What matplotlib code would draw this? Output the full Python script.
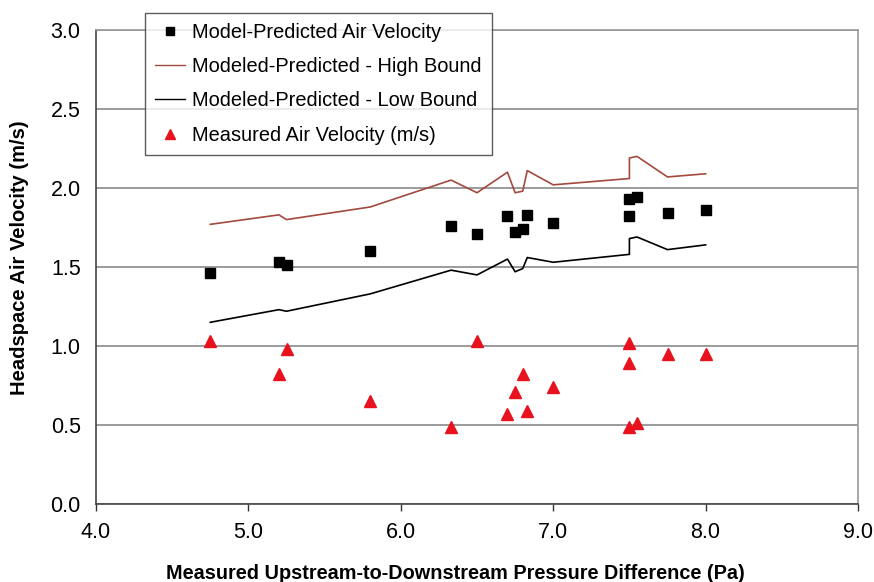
import matplotlib
matplotlib.use("Agg")
import matplotlib.pyplot as plt
from matplotlib.lines import Line2D

plt.rcParams["font.family"] = ["Liberation Sans", "DejaVu Sans"]

# model-predicted velocity (squares)
x_model = [4.75, 5.2, 5.25, 5.8, 6.33, 6.5, 6.7, 6.75, 6.8, 6.83, 7.0, 7.5, 7.5, 7.55, 7.75, 8.0]
y_model = [1.46, 1.53, 1.51, 1.60, 1.76, 1.71, 1.82, 1.72, 1.74, 1.83, 1.78, 1.93, 1.82, 1.94, 1.84, 1.86]

# bounds
x_bound = [4.75, 5.2, 5.25, 5.8, 6.33, 6.5, 6.7, 6.75, 6.8, 6.83, 7.0, 7.5, 7.5, 7.55, 7.75, 8.0]
y_high = [1.77, 1.83, 1.80, 1.88, 2.05, 1.97, 2.10, 1.97, 1.98, 2.11, 2.02, 2.06, 2.19, 2.20, 2.07, 2.09]
y_low = [1.15, 1.23, 1.22, 1.33, 1.48, 1.45, 1.55, 1.47, 1.49, 1.56, 1.53, 1.58, 1.68, 1.69, 1.61, 1.64]

# measured velocity (triangles)
x_meas = [4.75, 5.2, 5.25, 5.8, 6.33, 6.5, 6.7, 6.75, 6.8, 6.83, 7.0, 7.5, 7.5, 7.5, 7.55, 7.75, 8.0]
y_meas = [1.03, 0.82, 0.98, 0.65, 0.49, 1.03, 0.57, 0.71, 0.82, 0.59, 0.74, 1.02, 0.89, 0.49, 0.51, 0.95, 0.95]

x_ticks = [4.0, 5.0, 6.0, 7.0, 8.0, 9.0]
y_ticks = [0.0, 0.5, 1.0, 1.5, 2.0, 2.5, 3.0]

HIGH_C = "#A24A3E"
TRI_C = "#E8121E"

fig = plt.figure(figsize=(8.74, 5.82), dpi=100)
ax = fig.add_axes([96 / 874, 1 - 504 / 582, 762 / 874, 474 / 582])

ax.plot(x_bound, y_high, color=HIGH_C, lw=1.2, zorder=3)
ax.plot(x_bound, y_low, color="black", lw=1.2, zorder=3)
ax.plot(x_model, y_model, ls="none", marker="s", ms=7.5, color="black", zorder=4)
ax.plot(x_meas, y_meas, ls="none", marker="^", ms=8, color=TRI_C, zorder=4)

ax.set_xlim(4.0, 9.0)
ax.set_ylim(0.0, 3.0)
ax.set_xticks(x_ticks)
ax.set_yticks(y_ticks)
ax.set_xticklabels([f"{v:.1f}" for v in x_ticks])
ax.set_yticklabels([f"{v:.1f}" for v in y_ticks])
ax.tick_params(axis="x", direction="out", length=5, width=1, labelsize=15.5, pad=8, color="#333333")
ax.tick_params(axis="y", length=0, labelsize=15.5, pad=11)

ax.yaxis.grid(True, color="#8a8a8a", lw=1.2)
ax.set_axisbelow(True)
for side in ["left", "bottom"]:
    ax.spines[side].set_color("#444444")
    ax.spines[side].set_linewidth(1.2)
for side in ["top", "right"]:
    ax.spines[side].set_color("#999999")
    ax.spines[side].set_linewidth(1.2)

ax.set_xlabel("Measured Upstream-to-Downstream Pressure Difference (Pa)",
              fontsize=14.3, fontweight="bold", va="center")
ax.set_ylabel("Headspace Air Velocity (m/s)", fontsize=14.5, fontweight="bold", va="center")
ax.xaxis.set_label_coords(0.472, -0.146)
ax.yaxis.set_label_coords(-0.1, 0.519)

handles = [
    Line2D([], [], ls="none", marker="s", ms=6, color="black"),
    Line2D([], [], color=HIGH_C, lw=1.0),
    Line2D([], [], color="black", lw=1.0),
    Line2D([], [], ls="none", marker="^", ms=7, color=TRI_C),
]
labels = [
    "Model-Predicted Air Velocity",
    "Modeled-Predicted - High Bound",
    "Modeled-Predicted - Low Bound",
    "Measured Air Velocity (m/s)",
]
leg = ax.legend(handles, labels, loc="upper left", bbox_to_anchor=(145 / 874, 1 - 13 / 582),
                bbox_transform=fig.transFigure, borderaxespad=0, fontsize=14.4,
                frameon=True, fancybox=False, handlelength=1.5, handletextpad=0.35,
                labelspacing=0.76, borderpad=0.5)
leg.get_frame().set_edgecolor("#333333")
leg.get_frame().set_linewidth(1.0)
leg.set_zorder(10)

fig.savefig("out.png", dpi=100)
